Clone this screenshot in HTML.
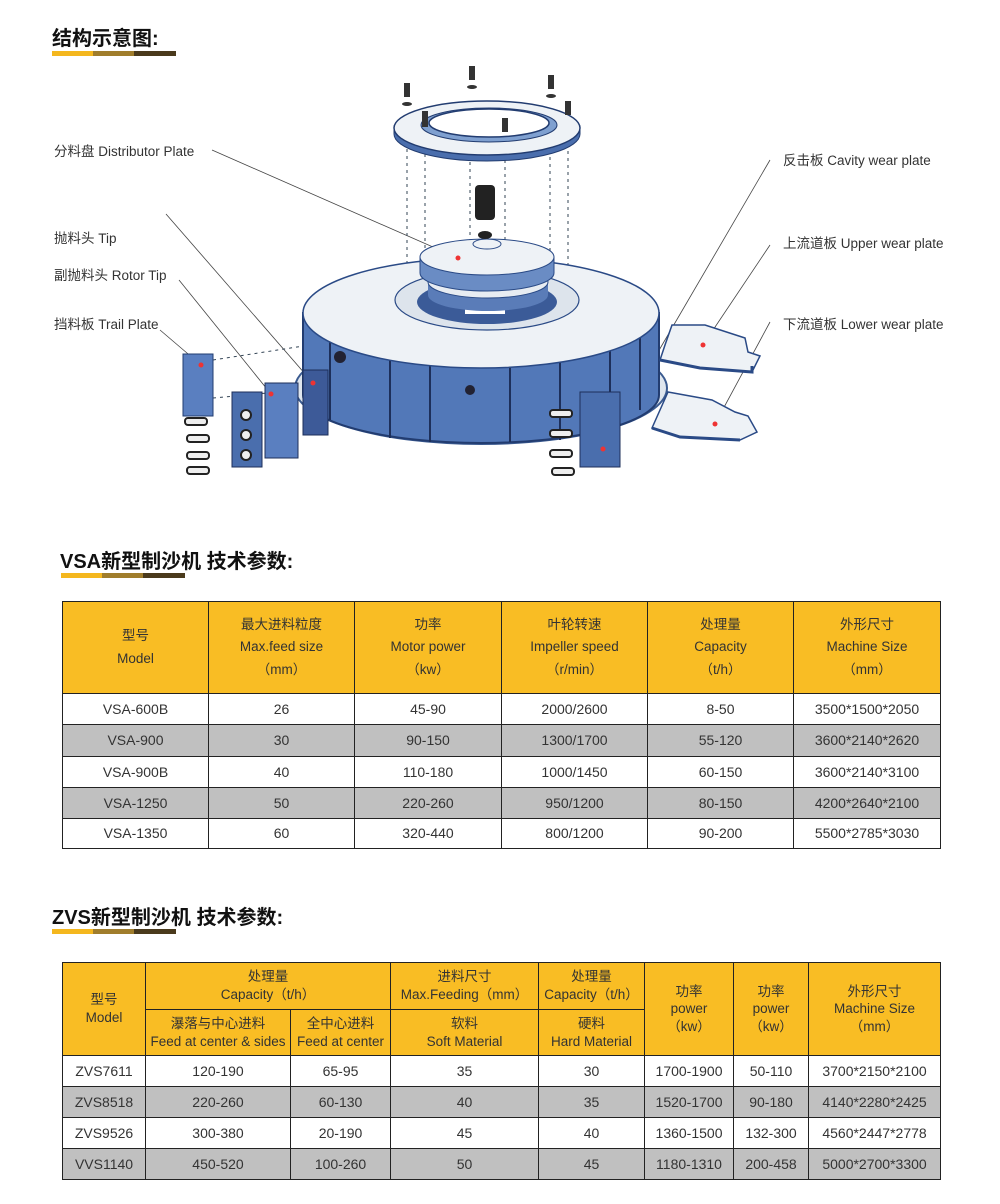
<!DOCTYPE html>
<html><head><meta charset="utf-8">
<style>
body{margin:0;background:#fff;width:1000px;height:1204px;position:relative;overflow:hidden;font-family:"Liberation Sans","Noto Sans CJK SC",sans-serif;color:#333}
.t{position:absolute;font-weight:bold;color:#111;font-size:20px;font-family:"Liberation Sans","Noto Sans CJK SC",sans-serif}
.bar{position:absolute;height:5px;width:124px;background:linear-gradient(90deg,#f4b71e 0 33%,#a07d2c 33% 66%,#4a3a1c 66% 100%)}
.lbl{position:absolute;font-size:13.5px;color:#333}
table{position:absolute;border-collapse:collapse;table-layout:fixed}
td{border:1.5px solid #222;text-align:center;font-size:14px;color:#333;padding:0;line-height:1.15}
.h td, td.h{background:#f9bd24;font-size:13.5px}
.t1 .h td{line-height:1.65}
.t2 .h td{line-height:1.3}
.g td{background:#c0c0c0}
</style></head><body>
<div class="t" style="left:52px;top:22px">结构示意图:</div>
<div class="bar" style="left:52px;top:51px"></div>

<svg style="position:absolute;left:0;top:0" width="1000" height="500">
<g stroke="#444" stroke-width="0.8" fill="none">
<line x1="212" y1="150" x2="458" y2="258"/>
<line x1="166" y1="214" x2="313" y2="383"/>
<line x1="179" y1="280" x2="271" y2="394"/>
<line x1="160" y1="330" x2="201" y2="365"/>
<line x1="770" y1="160" x2="658" y2="352"/>
<line x1="770" y1="245" x2="703" y2="345"/>
<line x1="770" y1="322" x2="715" y2="424"/>
</g>
<g stroke="#345" stroke-width="1" stroke-dasharray="3,4">
<line x1="407" y1="135" x2="407" y2="300"/><line x1="425" y1="140" x2="425" y2="330"/>
<line x1="470" y1="155" x2="470" y2="330"/><line x1="505" y1="160" x2="505" y2="340"/>
<line x1="550" y1="150" x2="550" y2="320"/><line x1="568" y1="130" x2="568" y2="300"/>
<line x1="213" y1="360" x2="310" y2="345"/><line x1="213" y1="398" x2="300" y2="390"/>
</g>
<ellipse cx="481" cy="388" rx="186" ry="56" fill="#dfe6ee" stroke="#3a5a90" stroke-width="2"/>
<path d="M303 313 L303 395 A178 48 0 0 0 659 395 L659 313 Z" fill="#5278b8" stroke="#223c70" stroke-width="2"/>
<g stroke="#1d2f5a" stroke-width="2">
<line x1="330" y1="330" x2="330" y2="420"/><line x1="390" y1="355" x2="390" y2="438"/><line x1="430" y1="362" x2="430" y2="442"/>
<line x1="510" y1="365" x2="510" y2="442"/><line x1="560" y1="360" x2="560" y2="440"/><line x1="610" y1="345" x2="610" y2="425"/><line x1="640" y1="330" x2="640" y2="410"/>
</g>
<circle cx="340" cy="357" r="6" fill="#223"/><circle cx="470" cy="390" r="5" fill="#223"/>
<ellipse cx="481" cy="313" rx="178" ry="55" fill="#eef2f6" stroke="#2a4a86" stroke-width="1.5"/>
<ellipse cx="487" cy="300" rx="92" ry="30" fill="#dde4ec" stroke="#2a4a86" stroke-width="1.2"/>
<ellipse cx="487" cy="302" rx="70" ry="22" fill="#3b5b98"/>
<rect x="465" y="300" width="40" height="14" fill="#fff"/>
<path d="M428 282 L428 295 A60 16 0 0 0 548 295 L548 282 Z" fill="#5a7cb8"/>
<ellipse cx="488" cy="282" rx="60" ry="16" fill="#e7ecf2" stroke="#2a4a86"/>
<path d="M420 257 L420 273 A67 18 0 0 0 554 273 L554 257 Z" fill="#6a8cc4" stroke="#2a4a86"/>
<ellipse cx="487" cy="257" rx="67" ry="18" fill="#eef2f6" stroke="#2a4a86"/>
<ellipse cx="487" cy="244" rx="14" ry="5" fill="none" stroke="#2a4a86"/>
<circle cx="458" cy="258" r="2.5" fill="#e33"/>
<ellipse cx="485" cy="235" rx="7" ry="4" fill="#222"/>
<rect x="475" y="185" width="20" height="35" rx="4" fill="#222"/>
<path d="M394 128 L394 134 A93 27 0 0 0 580 134 L580 128 Z" fill="#4a6ead" stroke="#223c70"/>
<ellipse cx="487" cy="128" rx="93" ry="27" fill="#eef2f6" stroke="#223c70" stroke-width="1.5"/>
<ellipse cx="489" cy="125" rx="68" ry="17" fill="#7fa0d0" stroke="#223c70"/>
<ellipse cx="489" cy="123" rx="60" ry="14" fill="#fff" stroke="#223c70" stroke-width="1.5"/>
<g fill="#333">
<rect x="404" y="83" width="6" height="14"/><rect x="469" y="66" width="6" height="14"/><rect x="548" y="75" width="6" height="14"/>
<rect x="565" y="101" width="6" height="14"/><rect x="502" y="118" width="6" height="14"/><rect x="422" y="111" width="6" height="16"/>
<ellipse cx="407" cy="104" rx="5" ry="2"/><ellipse cx="472" cy="87" rx="5" ry="2"/><ellipse cx="551" cy="96" rx="5" ry="2"/>
</g>
<rect x="183" y="354" width="30" height="62" fill="#5a7fc0" stroke="#223c70"/>
<circle cx="201" cy="365" r="2.5" fill="#e33"/>
<rect x="232" y="392" width="30" height="75" fill="#4a6ead" stroke="#1d2f5a"/>
<rect x="265" y="383" width="33" height="75" fill="#5a7fc0" stroke="#1d2f5a"/>
<circle cx="271" cy="394" r="2.5" fill="#e33"/>
<rect x="303" y="370" width="25" height="65" fill="#3d5a98" stroke="#1d2f5a"/>
<circle cx="313" cy="383" r="2.5" fill="#e33"/>
<g fill="#eee" stroke="#222" stroke-width="2">
<rect x="185" y="418" width="22" height="7" rx="3"/><rect x="187" y="435" width="22" height="7" rx="3"/><rect x="187" y="452" width="22" height="7" rx="3"/><rect x="187" y="467" width="22" height="7" rx="3"/>
<circle cx="246" cy="415" r="5"/><circle cx="246" cy="435" r="5"/><circle cx="246" cy="455" r="5"/>
</g>
<rect x="580" y="392" width="40" height="75" fill="#4a6ead" stroke="#1d2f5a"/>
<circle cx="603" cy="449" r="2.5" fill="#e33"/>
<g fill="#eee" stroke="#222" stroke-width="2">
<rect x="550" y="410" width="22" height="7" rx="3"/><rect x="550" y="430" width="22" height="7" rx="3"/><rect x="550" y="450" width="22" height="7" rx="3"/><rect x="552" y="468" width="22" height="7" rx="3"/>
</g>
<path d="M672 325 L705 325 L745 338 L748 352 L760 356 L752 372 L700 368 L660 360 L665 345 Z" fill="#eef2f6" stroke="#2a4a86" stroke-width="1.5"/>
<path d="M660 360 L700 368 L752 372 L752 366" fill="none" stroke="#2a4a86" stroke-width="3"/>
<circle cx="703" cy="345" r="2.5" fill="#e33"/>
<path d="M668 392 L712 400 L735 412 L748 416 L757 432 L740 440 L680 437 L652 428 L660 410 Z" fill="#eef2f6" stroke="#2a4a86" stroke-width="1.5"/>
<path d="M652 428 L680 437 L740 440" fill="none" stroke="#2a4a86" stroke-width="3"/>
<circle cx="715" cy="424" r="2.5" fill="#e33"/>
</svg>

<div class="lbl" style="left:54px;top:140px">分料盘 Distributor Plate</div>
<div class="lbl" style="left:54px;top:227px">抛料头 Tip</div>
<div class="lbl" style="left:54px;top:264px">副抛料头 Rotor Tip</div>
<div class="lbl" style="left:54px;top:313px">挡料板 Trail Plate</div>
<div class="lbl" style="left:783px;top:149px">反击板 Cavity wear plate</div>
<div class="lbl" style="left:783px;top:232px">上流道板 Upper wear plate</div>
<div class="lbl" style="left:783px;top:313px">下流道板 Lower wear plate</div>

<div class="t" style="left:60px;top:545px">VSA新型制沙机 技术参数:</div>
<div class="bar" style="left:61px;top:573px"></div>

<table class="t1" style="left:62px;top:601px;width:878px">
<colgroup><col style="width:146px"><col style="width:146px"><col style="width:147px"><col style="width:146px"><col style="width:146px"><col style="width:147px"></colgroup>
<tr class="h" style="height:92px"><td>型号<br>Model</td><td>最大进料粒度<br>Max.feed size<br>（mm）</td><td>功率<br>Motor power<br>（kw）</td><td>叶轮转速<br>Impeller speed<br>（r/min）</td><td>处理量<br>Capacity<br>（t/h）</td><td>外形尺寸<br>Machine Size<br>（mm）</td></tr>
<tr style="height:31px"><td>VSA-600B</td><td>26</td><td>45-90</td><td>2000/2600</td><td>8-50</td><td>3500*1500*2050</td></tr>
<tr class="g" style="height:32px"><td>VSA-900</td><td>30</td><td>90-150</td><td>1300/1700</td><td>55-120</td><td>3600*2140*2620</td></tr>
<tr style="height:31px"><td>VSA-900B</td><td>40</td><td>110-180</td><td>1000/1450</td><td>60-150</td><td>3600*2140*3100</td></tr>
<tr class="g" style="height:31px"><td>VSA-1250</td><td>50</td><td>220-260</td><td>950/1200</td><td>80-150</td><td>4200*2640*2100</td></tr>
<tr style="height:30px"><td>VSA-1350</td><td>60</td><td>320-440</td><td>800/1200</td><td>90-200</td><td>5500*2785*3030</td></tr>
</table>

<div class="t" style="left:52px;top:901px">ZVS新型制沙机 技术参数:</div>
<div class="bar" style="left:52px;top:929px"></div>

<table class="t2" style="left:62px;top:962px;width:878px">
<colgroup><col style="width:83px"><col style="width:145px"><col style="width:100px"><col style="width:148px"><col style="width:106px"><col style="width:89px"><col style="width:75px"><col style="width:132px"></colgroup>
<tr class="h" style="height:47px"><td rowspan="2">型号<br>Model</td><td colspan="2">处理量<br>Capacity（t/h）</td><td>进料尺寸<br>Max.Feeding（mm）</td><td>处理量<br>Capacity（t/h）</td><td rowspan="2">功率<br>power<br>（kw）</td><td rowspan="2">功率<br>power<br>（kw）</td><td rowspan="2">外形尺寸<br>Machine Size<br>（mm）</td></tr>
<tr class="h" style="height:46px"><td>瀑落与中心进料<br>Feed at center &amp; sides</td><td>全中心进料<br>Feed at center</td><td>软料<br>Soft Material</td><td>硬料<br>Hard Material</td></tr>
<tr style="height:31px"><td>ZVS7611</td><td>120-190</td><td>65-95</td><td>35</td><td>30</td><td>1700-1900</td><td>50-110</td><td>3700*2150*2100</td></tr>
<tr class="g" style="height:31px"><td>ZVS8518</td><td>220-260</td><td>60-130</td><td>40</td><td>35</td><td>1520-1700</td><td>90-180</td><td>4140*2280*2425</td></tr>
<tr style="height:31px"><td>ZVS9526</td><td>300-380</td><td>20-190</td><td>45</td><td>40</td><td>1360-1500</td><td>132-300</td><td>4560*2447*2778</td></tr>
<tr class="g" style="height:31px"><td>VVS1140</td><td>450-520</td><td>100-260</td><td>50</td><td>45</td><td>1180-1310</td><td>200-458</td><td>5000*2700*3300</td></tr>
</table>
</body></html>
